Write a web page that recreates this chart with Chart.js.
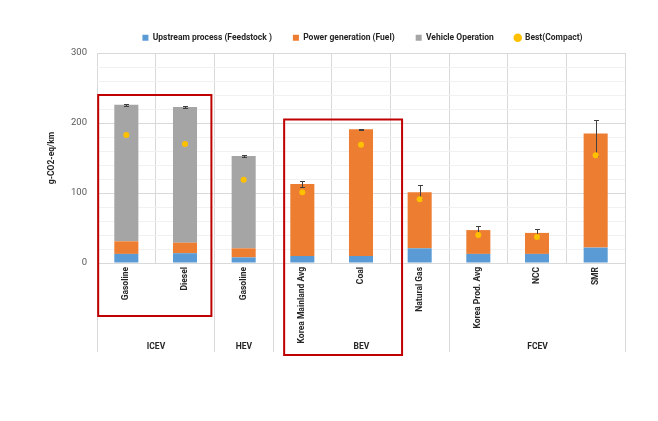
<!DOCTYPE html>
<html>
<head>
<meta charset="utf-8">
<script src="https://cdn.jsdelivr.net/npm/chart.js@4.4.0/dist/chart.umd.min.js"></script>
<style>
  html, body { margin: 0; padding: 0; background: #fff; }
  #wrap { width: 658px; height: 421px; }
</style>
</head>
<body>
<div id="wrap"><canvas id="lcaChart" width="658" height="421"></canvas></div>
<script>
const categories = ['Gasoline', 'Diesel', 'Gasoline', 'Korea Mainland Avg', 'Coal', 'Natural Gas', 'Korea Prod. Avg', 'NCC', 'SMR'];
const groups = ['ICEV', 'HEV', 'BEV', 'FCEV'];
const groupSizes = [2, 1, 3, 3];
const upstream = [13, 14, 8, 10, 10, 21, 13, 13, 22];
const powerGen = [18, 15, 13, 103, 181, 80, 34, 30, 163];
const vehicleOp = [195, 194, 132, 0, 0, 0, 0, 0, 0];
const bestCompact = [183, 170, 119, 101, 169, 91, 40, 37, 154];
const errUp = [1, 1, 1, 4, 1, 10, 6, 6, 19];
const errDown = [1, 1, 1, 4, 1, 10, 6, 6, 32];
const yTicks = [0, 100, 200, 300];

const labelFont = { family: 'Roboto', size: 8.5, weight: 'bold' };
const gridColor = '#D9D9D9';

const errorBars = {
    id: 'errorBars',
    afterDatasetDraw(chart, args) {
        if (args.index !== 0) return;
        const y = chart.scales.y;
        const ctx = chart.ctx;
        const meta = chart.getDatasetMeta(0);
        ctx.save();
        ctx.strokeStyle = '#404040';
        ctx.lineWidth = 1;
        meta.data.forEach((bar, i) => {
            const total = upstream[i] + powerGen[i] + vehicleOp[i];
            const hi = Math.round(y.getPixelForValue(total + errUp[i])) + 0.5;
            const lo = Math.round(y.getPixelForValue(total - errDown[i])) + 0.5;
            const x = Math.round(bar.x) + 0.5;
            ctx.beginPath();
            ctx.moveTo(x, hi); ctx.lineTo(x, lo);
            ctx.moveTo(x - 2.5, hi); ctx.lineTo(x + 2.5, hi);
            ctx.moveTo(x - 2.5, lo); ctx.lineTo(x + 2.5, lo);
            ctx.stroke();
        });
        ctx.restore();
    }
};

const groupAxis = {
    id: 'groupAxis',
    afterLayout(chart) {
        // nudge the legend to where the original sits
        const lg = chart.legend;
        lg.left += 50; lg.right += 50;
        lg.top -= 1; lg.bottom -= 1;
    },
    afterDraw(chart) {
        const ctx = chart.ctx;
        const x = chart.scales.x;
        const y = chart.scales.y;
        const base = chart.chartArea.bottom;
        ctx.save();
        // group separators + labels
        ctx.strokeStyle = gridColor;
        ctx.lineWidth = 1;
        ctx.fillStyle = '#262626';
        ctx.font = 'bold 8.5px Roboto';
        ctx.textAlign = 'center';
        ctx.textBaseline = 'middle';
        let start = 0;
        groups.forEach((g, gi) => {
            const end = start + groupSizes[gi];
            const x0 = Math.round(x.getPixelForValue(start - 0.5)) + 0.5;
            const x1 = Math.round(x.getPixelForValue(end - 0.5)) + 0.5;
            ctx.beginPath();
            ctx.moveTo(x0, base); ctx.lineTo(x0, base + 89);
            ctx.moveTo(x1, base); ctx.lineTo(x1, base + 89);
            ctx.stroke();
            ctx.fillText(g, (x0 + x1) / 2, base + 84);
            start = end;
        });
        // highlight boxes
        ctx.strokeStyle = '#C00000';
        ctx.lineWidth = 2;
        const boxes = [[-0.48, 1.45, 240, 53], [2.69, 4.70, 205, 92]];
        boxes.forEach(b => {
            const l = x.getPixelForValue(b[0]);
            const r = x.getPixelForValue(b[1]);
            const t = y.getPixelForValue(b[2]);
            ctx.strokeRect(l, t, r - l, base + b[3] - t);
        });
        ctx.restore();
    }
};

new Chart(document.getElementById('lcaChart').getContext('2d'), {
    type: 'bar',
    data: {
        labels: categories,
        datasets: [{
            label: 'Upstream process (Feedstock )',
            data: upstream,
            backgroundColor: '#5B9BD5',
            pointStyle: 'rect',
            order: 1
        }, {
            label: 'Power generation (Fuel)',
            data: powerGen,
            backgroundColor: '#ED7D31',
            pointStyle: 'rect',
            order: 1
        }, {
            label: 'Vehicle Operation',
            data: vehicleOp,
            backgroundColor: '#A5A5A5',
            pointStyle: 'rect',
            order: 1
        }, {
            type: 'line',
            label: 'Best(Compact)',
            data: bestCompact,
            showLine: false,
            pointStyle: 'circle',
            pointRadius: 3,
            pointBorderWidth: 0,
            backgroundColor: '#FFC000',
            borderColor: '#FFC000',
            order: 0
        }]
    },
    options: {
        responsive: false,
        animation: false,
        layout: { padding: { top: 13.5, left: 0, right: 33, bottom: 0 } },
        datasets: {
            bar: { barPercentage: 0.41, categoryPercentage: 1.0 }
        },
        plugins: {
            tooltip: { enabled: false },
            legend: {
                position: 'top',
                labels: {
                    usePointStyle: true,
                    boxWidth: 6,
                    boxHeight: 6,
                    padding: 21,
                    color: '#262626',
                    font: labelFont,
                    sort: (a, b) => a.datasetIndex - b.datasetIndex
                }
            }
        },
        scales: {
            x: {
                stacked: true,
                afterFit: s => { s.height = 158; },
                grid: { offset: true, color: gridColor, drawTicks: false },
                border: { color: gridColor },
                ticks: {
                    autoSkip: false,
                    minRotation: 90,
                    maxRotation: 90,
                    padding: 4,
                    color: '#262626',
                    font: labelFont
                }
            },
            y: {
                stacked: true,
                min: 0,
                max: 300,
                afterFit: s => { s.width = 97; },
                border: { display: false },
                grid: {
                    drawTicks: false,
                    color: c => (c.tick && yTicks.includes(c.tick.value)) ? gridColor : '#F1F1F1'
                },
                ticks: {
                    stepSize: 20,
                    maxTicksLimit: 20,
                    autoSkip: false,
                    padding: 10,
                    color: '#595959',
                    font: { family: 'Roboto', size: 9.5 },
                    callback: v => yTicks.includes(v) ? v : ''
                },
                title: {
                    display: true,
                    text: 'g-CO2-eq/km',
                    color: '#262626',
                    font: labelFont,
                    padding: { top: 47, bottom: 0 }
                }
            }
        }
    },
    plugins: [errorBars, groupAxis]
});
</script>
</body>
</html>
